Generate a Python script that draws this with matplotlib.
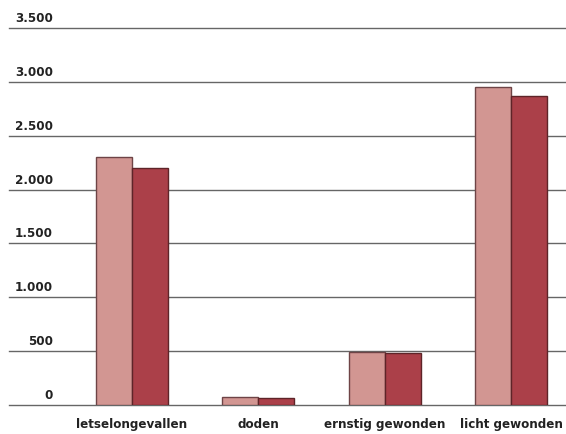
import matplotlib
matplotlib.use("Agg")
import matplotlib.pyplot as plt
import matplotlib.transforms as mtransforms
import numpy as np

categories = ["letselongevallen", "doden", "ernstig gewonden", "licht gewonden"]
series_a = [2300, 75, 490, 2950]
series_b = [2200, 65, 487, 2870]
yticks = [0, 500, 1000, 1500, 2000, 2500, 3000, 3500]
ytick_labels = ["0", "500", "1.000", "1.500", "2.000", "2.500", "3.000", "3.500"]

plt.rcParams['font.family'] = ['DejaVu Sans']
plt.rcParams['font.stretch'] = 'condensed'

fig = plt.figure(figsize=(5.66, 4.34), dpi=100)
ax = fig.add_axes([9/566, 29/434, 557/566, 377/434])

x = np.arange(len(categories))
w = 0.285
ax.bar(x - w/2, series_a, w, color="#d29692", edgecolor="#6e4446", linewidth=1, zorder=3)
ax.bar(x + w/2, series_b, w, color="#ab4049", edgecolor="#5e2428", linewidth=1, zorder=3)

ax.set_xlim(-0.972, 3.435)
ax.set_ylim(0, 3500)
for v in yticks:
    ax.axhline(v, color="#666666", linewidth=1, zorder=1, clip_on=False)

trans = mtransforms.blended_transform_factory(ax.transAxes, ax.transData)
for v, lab in zip(yticks, ytick_labels):
    ax.text(44/557, v + 28, lab, transform=trans, ha="right", va="bottom",
            fontsize=9.5, fontweight="bold", color="#222222")

for xi, lab in zip(x, categories):
    ax.text(xi, -125, lab, ha="center", va="top", fontsize=9.5,
            fontweight="bold", color="#222222")

for s in ax.spines.values():
    s.set_visible(False)
ax.set_xticks([])
ax.set_yticks([])
ax.patch.set_alpha(0)

fig.savefig("out.png", dpi=100)
